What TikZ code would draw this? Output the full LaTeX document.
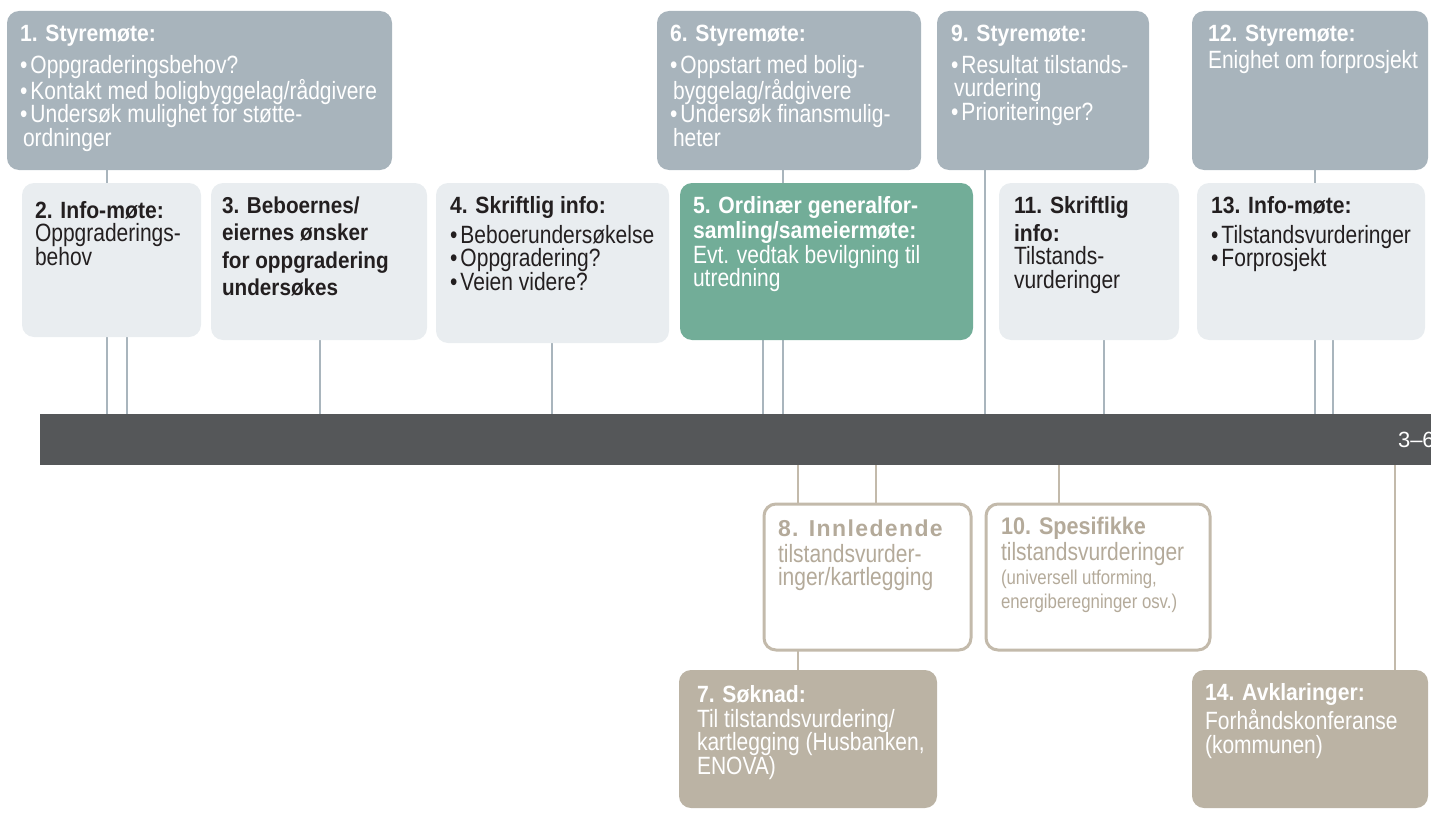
\documentclass[tikz,border=0pt]{standalone}
\usepackage{fontspec}
\setmainfont{Liberation Sans}
\newfontfamily\bodyf[FakeStretch=0.84]{Liberation Sans}
\newfontfamily\headf[FakeStretch=0.9]{Liberation Sans}
\newfontfamily\spacedf[LetterSpace=6]{Liberation Sans}
\usetikzlibrary{calc}
\pgfdeclarelayer{bg}
\pgfsetlayers{bg,main}
\definecolor{topc}{HTML}{A8B4BC}
\definecolor{lightc}{HTML}{E9EDF0}
\definecolor{greenc}{HTML}{72AD98}
\definecolor{barc}{HTML}{555759}
\definecolor{tanc}{HTML}{BBB3A4}
\definecolor{tanline}{HTML}{C3BAAB}
\definecolor{tantext}{HTML}{B4AA9A}
\definecolor{linec}{HTML}{A9B5BD}
\definecolor{darktext}{HTML}{231F20}
\newcommand\hd{\headf\fontsize{23.5}{25}\selectfont\bfseries}
\newcommand\bdy{\bodyf\fontsize{25}{23.5}\selectfont}
\newcommand\bl{\makebox[10.5pt][l]{•}}
\newcommand\ci{\hspace*{3pt}}
\newcommand\fl{\rule{0pt}{30pt}}
\tikzset{
  boxbase/.style={rectangle, rounded corners=12pt, inner sep=0pt, outer sep=0pt, anchor=north west},
  topbox/.style={boxbase, fill=topc},
  lightbox/.style={boxbase, fill=lightc},
  greenbox/.style={boxbase, fill=greenc},
  tanbox/.style={boxbase, fill=tanc},
  outbox/.style={boxbase, fill=white, draw=tanline, line width=3pt},
  txt/.style={anchor=north west, align=left, inner sep=0pt, outer sep=0pt, font=\bdy},
  topconn/.style={draw=linec, line width=1.1pt},
  botconn/.style={draw=tanline, line width=1.6pt},
}
\begin{document}
\begin{tikzpicture}[x=1pt,y=-1pt]
\useasboundingbox (0,0) rectangle (1431,816);
% bar
\node[boxbase, rounded corners=0pt, fill=barc, minimum width=1400pt, minimum height=51pt] (bar) at (40,414) {};
\node[txt, text=white, font=\fontsize{22}{24}\selectfont] (bartxt) at (1398,417) {\fl 3–6};
% top row
\node[topbox, minimum width=385pt, minimum height=159pt] (b1) at (7,11) {};
\node[topbox, minimum width=264pt, minimum height=159pt] (b6) at (657,11) {};
\node[topbox, minimum width=212pt, minimum height=159pt] (b9) at (937,11) {};
\node[topbox, minimum width=236pt, minimum height=159pt] (b12) at (1192,11) {};
% second row
\node[lightbox, minimum width=179pt, minimum height=154pt] (b2) at (22,183) {};
\node[lightbox, minimum width=216pt, minimum height=157pt] (b3) at (211,183) {};
\node[lightbox, minimum width=233pt, minimum height=160pt] (b4) at (436,183) {};
\node[greenbox, minimum width=293pt, minimum height=157pt] (b5) at (680,183) {};
\node[lightbox, minimum width=180pt, minimum height=157pt] (b11) at (999,183) {};
\node[lightbox, minimum width=228pt, minimum height=157pt] (b13) at (1197,183) {};
% below bar
\node[outbox, minimum width=207pt, minimum height=146pt] (b8) at (764,504) {};
\node[outbox, minimum width=224pt, minimum height=146pt] (b10) at (986,504) {};
\node[tanbox, minimum width=258pt, minimum height=138pt] (b7) at (679,670) {};
\node[tanbox, minimum width=236pt, minimum height=138pt] (b14) at (1192,670) {};
% connectors
\begin{pgfonlayer}{bg}
\draw[topconn] (b1.south west) ++(100,0) coordinate (c1) -- (c1 |- bar.north);
\draw[topconn] (b2.south west) ++(105,0) coordinate (c2) -- (c2 |- bar.north);
\draw[topconn] (b3.south west) ++(109,0) coordinate (c3) -- (c3 |- bar.north);
\draw[topconn] (b4.south west) ++(116,0) coordinate (c4) -- (c4 |- bar.north);
\draw[topconn] (b5.south west) ++(83,0) coordinate (c5) -- (c5 |- bar.north);
\draw[topconn] (b6.south west) ++(126,0) coordinate (c6) -- (c6 |- bar.north);
\draw[topconn] (b9.south west) ++(48,0) coordinate (c9) -- (c9 |- bar.north);
\draw[topconn] (b11.south west) ++(105,0) coordinate (c11) -- (c11 |- bar.north);
\draw[topconn] (b12.south west) ++(123,0) coordinate (c12) -- (c12 |- bar.north);
\draw[topconn] (b13.south west) ++(136,0) coordinate (c13) -- (c13 |- bar.north);
\draw[botconn] (b7.north west) ++(119,0) coordinate (c7) -- (c7 |- bar.south);
\draw[botconn] (b8.north west) ++(112,0) coordinate (c8) -- (c8 |- bar.south);
\draw[botconn] (b10.north west) ++(73,0) coordinate (c10) -- (c10 |- bar.south);
\draw[botconn] (b14.north west) ++(203,0) coordinate (c14) -- (c14 |- bar.south);
\end{pgfonlayer}
% texts (node top = first baseline - 30)
\node[txt, text=white] (t1) at (20,11) {\fl{\hd 1. Styremøte:}\\[8.5pt]\bl Oppgraderingsbehov?\\\bl Kontakt med boligbyggelag/rådgivere\\\bl Undersøk mulighet for støtte-\\\ci ordninger};
\node[txt, text=white] (t6) at (670,11) {\fl{\hd 6. Styremøte:}\\[8.5pt]\bl Oppstart med bolig-\\\ci byggelag/rådgivere\\\bl Undersøk finansmulig-\\\ci heter};
\node[txt, text=white] (t9) at (951,11) {\fl{\hd 9. Styremøte:}\\[8.5pt]\bl Resultat tilstands-\\\ci vurdering\\\bl Prioriteringer?};
\node[txt, text=white] (t12) at (1208,11) {\fl{\hd 12. Styremøte:}\\[4.5pt]Enighet om forprosjekt};
\node[txt, text=darktext] (t2) at (35,188) {\fl{\hd 2. Info-møte:}\\Oppgraderings-\\behov};
\node[txt, text=darktext, font=\headf\fontsize{23}{27.5}\selectfont\bfseries] (t3) at (222,183) {\fl 3. Beboernes/\\eiernes ønsker\\for oppgradering\\undersøkes};
\node[txt, text=darktext] (t4) at (450,183) {\fl{\hd 4. Skriftlig info:}\\[6.5pt]\bl Beboerundersøkelse\\\bl Oppgradering?\\\bl Veien videre?};
\node[txt, text=white] (t5) at (693,183) {\fl{\hd 5. Ordinær generalfor-}\\[1.5pt]{\hd samling/sameiermøte:}\\[1.5pt]Evt. vedtak bevilgning til\\utredning};
\node[txt, text=darktext] (t11) at (1014,183) {\fl{\hd 11. Skriftlig}\\[4.5pt]{\hd info:}\\Tilstands-\\vurderinger};
\node[txt, text=darktext] (t13) at (1211,183) {\fl{\hd 13. Info-møte:}\\[6.5pt]\bl Tilstandsvurderinger\\\bl Forprosjekt};
\node[txt, text=tantext] (t8) at (778,506) {\fl{\spacedf\fontsize{23}{25}\selectfont\bfseries 8. Innledende}\\[2.5pt]tilstandsvurder-\\inger/kartlegging};
\node[txt, text=tantext] (t10) at (1001,504) {\fl{\headf\fontsize{24}{25}\selectfont\bfseries 10. Spesifikke}\\[2.5pt]tilstandsvurderinger\\[0.5pt]{\fontsize{20}{24}\selectfont (universell utforming,}\\[0.5pt]{\fontsize{20}{24}\selectfont energiberegninger osv.)}};
\node[txt, text=white] (t7) at (697,672) {\fl{\hd 7. Søknad:}\\[1.5pt]Til tilstandsvurdering/\\kartlegging (Husbanken,\\ENOVA)};
\node[txt, text=white] (t14) at (1205,670) {\fl{\hd 14. Avklaringer:}\\[3.5pt]Forhåndskonferanse\\(kommunen)};
\end{tikzpicture}
\end{document}
